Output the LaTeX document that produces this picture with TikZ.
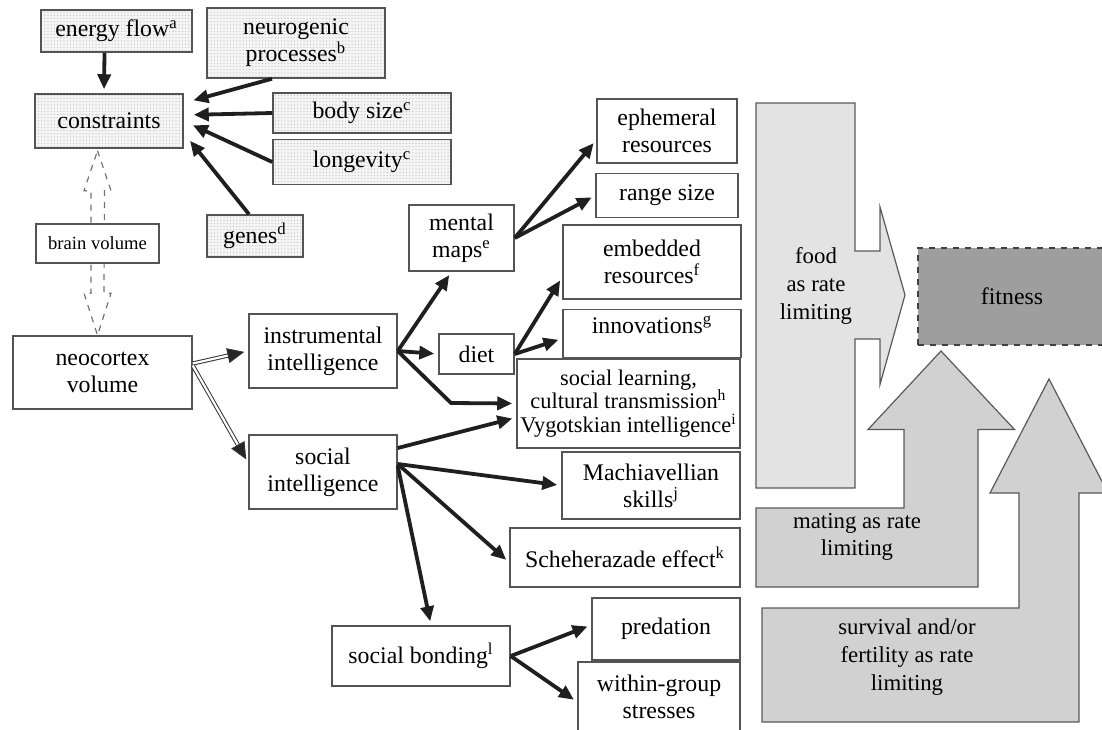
\documentclass[tikz,border=0pt]{standalone}
\usepackage{fontspec}
\setmainfont{Liberation Serif}
\usetikzlibrary{arrows.meta,positioning,calc,backgrounds,patterns.meta}

\begin{document}
\begin{tikzpicture}[
    x=0.5pt, y=-0.5pt,
    >={Triangle[length=7.5pt,width=6.5pt]},
    box/.style={
      rectangle, draw=black!67, line width=0.75pt, fill=white,
      align=center, inner sep=1pt,
      font=\fontsize{11.9}{13.6}\selectfont
    },
    dotbox/.style={
      box, preaction={fill=black!4},
      pattern={Dots[distance=1.6pt,radius=0.3pt]}, pattern color=black!28
    },
    small/.style={font=\fontsize{11.2}{11.9}\selectfont},
    arr/.style={->, line width=1.9pt, draw=black!88, shorten >=2pt},
    dbl/.style={-{Triangle[length=8.5pt,width=7.5pt,fill=black!85]}, double,
      double distance=1.1pt, line width=0.5pt, draw=black!80,
      shorten >=2pt},
    hollow/.style={dashed, draw=black!55, line width=0.6pt},
    bigarrow/.style={draw=black!65, line width=0.6pt},
    biglabel/.style={align=center, font=\fontsize{11.4}{13.8}\selectfont}
  ]
  \useasboundingbox (0,0) rectangle (1102,729);

  % rate limiting arrows
  \draw[bigarrow, fill=black!11]
    (756,103) -- (855,103) -- (855,251) -- (880,251) -- (880,207)
    -- (905,295) -- (880,384.5) -- (880,339) -- (855,339) -- (855,488)
    -- (756,488) -- cycle;
  \draw[bigarrow, fill=black!18]
    (756,508) -- (904,508) -- (904,429.5) -- (868,429.5) -- (941,351)
    -- (1014.5,429.5) -- (978,429.5) -- (978,587) -- (756,587) -- cycle;
  \draw[bigarrow, fill=black!18]
    (762,608) -- (1019,608) -- (1019,493) -- (990,493) -- (1049,379)
    -- (1108,493) -- (1079,493) -- (1079,722) -- (762,722) -- cycle;
  \node[biglabel] (food) at (816,286) {food\\as rate\\limiting};
  \node[biglabel] (mating) at (857,537) {mating as rate\\limiting};
  \node[biglabel] (survival) at (907,657)
    {survival and/or\\fertility as rate\\limiting};
  \node[box, dashed, draw=black!75, line width=1pt, fill=black!38,
        text=black, minimum width=94pt, minimum height=48.5pt]
    (fitness) at (1012,296.5) {fitness};

  % constraints
  \node[dotbox, minimum width=75.5pt, minimum height=21pt]
    (energy) at (116.5,31) {energy flow\textsuperscript{a}};
  \node[dotbox, minimum width=89pt, minimum height=35pt]
    (neuro) at (296,43) {neurogenic\\processes\textsuperscript{b}};
  \node[dotbox, minimum width=74pt, minimum height=27pt]
    (constraints) at (109,121) {constraints};
  \node[dotbox, minimum width=89pt, minimum height=20pt]
    (bodysize) at (362,113) {body size\textsuperscript{c}};
  \node[dotbox, minimum width=89pt, minimum height=22.5pt,
        below=2.5pt of bodysize] (longevity) {longevity\textsuperscript{c}};
  \node[dotbox, minimum width=48pt, minimum height=21pt]
    (genes) at (255,236) {genes\textsuperscript{d}};
  \node[box, font=\fontsize{9.3}{11}\selectfont, minimum width=61.5pt,
        minimum height=19.5pt] (brainvol) at (97.5,243.5) {brain volume};

  % intelligence
  \node[box, minimum width=89.5pt, minimum height=36.5pt]
    (neocortex) at (102.5,372.5) {neocortex\\volume};
  \node[box, minimum width=74pt, minimum height=37pt]
    (instr) at (323,351) {instrumental\\intelligence};
  \node[box, minimum width=74pt, minimum height=37pt]
    (social) at (323,472) {social\\intelligence};
  \node[box, minimum width=52.5pt, minimum height=33pt]
    (mental) at (461.5,238) {mental\\maps\textsuperscript{e}};
  \node[box, minimum width=37.5pt, minimum height=20pt]
    (diet) at (476.5,354) {diet};
  \node[box, minimum width=89pt, minimum height=30pt]
    (sbond) at (421,656) {social bonding\textsuperscript{l}};

  % outcomes
  \node[box, minimum width=70pt, minimum height=32pt]
    (ephem) at (667,131) {ephemeral\\resources};
  \node[box, minimum width=71pt, minimum height=22pt,
        below=4.5pt of ephem] (range) {range size};
  \node[box, minimum width=89pt, minimum height=37pt]
    (embed) at (652,262) {embedded\\resources\textsuperscript{f}};
  \node[box, minimum width=89pt, minimum height=24pt, inner sep=0pt,
        text depth=9pt, below=4.5pt of embed]
    (innov) {innovations\textsuperscript{g}};
  \node[box, small, minimum width=111.5pt, minimum height=44.5pt]
    (soclearn) at (628.5,403.5)
    {social learning,\\cultural transmission\textsuperscript{h}\\
     Vygotskian intelligence\textsuperscript{i}};
  \node[box, minimum width=89pt, minimum height=33.5pt]
    (machia) at (651,485.5) {Machiavellian\\skills\textsuperscript{j}};
  \node[box, minimum width=115pt, minimum height=29.5pt]
    (scheh) at (625,557.5) {Scheherazade effect\textsuperscript{k}};
  \node[box, minimum width=74pt, minimum height=31pt]
    (predation) at (666,629) {predation};
  \node[box, minimum width=81pt, minimum height=35pt]
    (within) at (659,697) {within-group\\stresses};

  % brain volume link
  \coordinate (bvtop) at ($(brainvol.center |- constraints.south)+(0,2)$);
  \coordinate (bvbot) at (brainvol.center |- neocortex.north);
  \begin{scope}[on background layer]
    \draw[hollow] (bvtop) -- ++(13.5,40) -- ++(-6.5,0)
      -- ($(bvbot)+(6.5,-42)$) -- ++(7,0) -- (bvbot) -- ++(-13.5,-42)
      -- ++(7,0) -- ($(bvtop)+(-6.5,40)$) -- ++(-7,0) -- cycle;
  \end{scope}

  \draw[arr] ([xshift=-6pt]energy.south) -- ([xshift=-2.5pt]constraints.north);
  \draw[arr, shorten >=5pt] ([xshift=-12pt]neuro.south)
    -- ([yshift=9pt]constraints.east);
  \draw[arr, shorten >=5pt] (bodysize.west) -- ([yshift=3pt]constraints.east);
  \draw[arr, shorten >=5pt] (longevity.west) -- (constraints.east);
  \draw[arr, shorten >=5pt] ([xshift=-3pt]genes.north)
    -- ([yshift=-6pt]constraints.east);

  \draw[dbl] ([yshift=4.5pt]neocortex.east) -- (instr.west);
  \draw[dbl] ([yshift=3.5pt]neocortex.east) -- ([yshift=4.5pt]social.west);

  \draw[arr] (instr.east) -- ([xshift=-5pt]mental.south);
  \draw[arr] (instr.east) -- (diet.west);
  \coordinate (bend) at (451,403);
  \draw[arr] (instr.east) -- (bend) -- (soclearn.west);

  \draw[arr] (mental.east) -- ([yshift=-4.5pt]ephem.west);
  \draw[arr] (mental.east) -- (range.west);
  \draw[arr] (diet.east) -- ([yshift=-7.5pt]embed.west);
  \draw[arr] (diet.east) -- ([yshift=-2.5pt]innov.west);

  \draw[arr] ([yshift=12pt]social.east) -- ([yshift=-7pt]soclearn.west);
  \draw[arr] ([yshift=4pt]social.east) -- (machia.west);
  \draw[arr] ([yshift=4pt]social.east) -- ([yshift=-2.5pt]scheh.west);
  \draw[arr] ([yshift=3pt]social.east) -- ([xshift=5pt]sbond.north);

  \draw[arr] (sbond.east) -- ([yshift=2pt]predation.west);
  \draw[arr] (sbond.east) -- ([yshift=-2.5pt]within.west);
\end{tikzpicture}
\end{document}
